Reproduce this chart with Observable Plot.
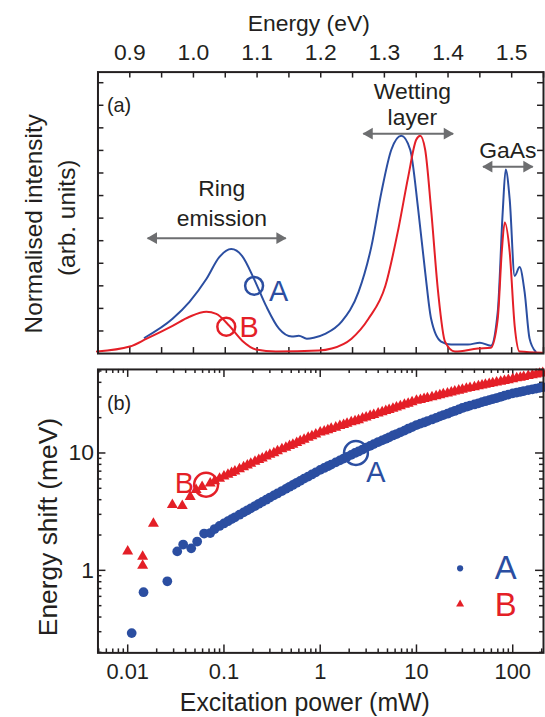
<!DOCTYPE html>
<html><head><meta charset="utf-8">
<script src="https://cdn.jsdelivr.net/npm/d3@7"></script>
<script src="https://cdn.jsdelivr.net/npm/@observablehq/plot@0.6"></script>
<style>
html,body{margin:0;padding:0;background:#fff;overflow:hidden;width:545px;height:717px;}
#wrap{position:relative;width:545px;height:717px;overflow:hidden;}
#pa{position:absolute;left:0;top:0;}
#pb{position:absolute;left:0;top:360px;}
</style></head><body>
<div id="wrap"><div id="pa"></div><div id="pb"></div></div>
<script>
// ---------- Panel (a): spectra ----------
const energyA = [0.9234,0.9672,0.9938,1.0203,1.0406,1.0594,1.0766,1.0953,1.1141,1.1344,1.1547,1.1656,1.1781,1.1891,1.2078,1.2328,1.2594,1.2797,1.2953,1.3109,1.3266,1.3406,1.3531,1.3641,1.3734,1.3891,1.4047,1.4313,1.45,1.4672,1.4781,1.4859,1.4906,1.4969,1.5047,1.5125,1.5203,1.5281,1.5375];
const intensityA = [0.070,0.154,0.229,0.330,0.427,0.463,0.432,0.330,0.211,0.110,0.075,0.079,0.066,0.070,0.088,0.141,0.273,0.476,0.714,0.903,0.965,0.903,0.639,0.361,0.154,0.053,0.040,0.040,0.048,0.035,0.185,0.626,0.815,0.683,0.344,0.383,0.273,0.066,0.009];
const energyB = [0.8484,0.9,0.9266,0.9672,0.9938,1.0203,1.0359,1.0563,1.0766,1.0984,1.1297,1.1969,1.2172,1.2484,1.275,1.3016,1.3219,1.3375,1.35,1.3563,1.3641,1.3734,1.3844,1.3953,1.4109,1.4469,1.4672,1.4781,1.4844,1.4891,1.4969,1.5047,1.5125,1.5484];
const intensityB = [0.009,0.031,0.066,0.123,0.163,0.185,0.176,0.123,0.057,0.018,0.009,0.013,0.022,0.066,0.154,0.300,0.551,0.784,0.947,0.965,0.903,0.639,0.273,0.053,0.009,0.022,0.026,0.154,0.449,0.581,0.449,0.123,0.009,0.004];

const energyTickLabels = [0.9,1.0,1.1,1.2,1.3,1.4,1.5];
const energyTicks = [0.85,0.9,0.95,1.0,1.05,1.1,1.15,1.2,1.25,1.3,1.35,1.4,1.45,1.5,1.55];
const intensityTicks = [0.1,0.2,0.3,0.4,0.5,0.6,0.7,0.8,0.9,1.0,1.1,1.2];

// annotations (a)
const arrowNames = ["ring","wetting","gaas"];
const arrowE1 = [0.928,1.267,1.455];
const arrowE2 = [1.145,1.408,1.533];
const arrowI = [0.511,0.974,0.828];
const annotText = ["Ring","emission","Wetting","layer","GaAs"];
const annotE = [1.0445,1.0445,1.344,1.344,1.494];
const annotI = [0.696,0.564,1.128,1.013,0.868];
const markerLetters = ["A","B"];
const markerE = [1.0953,1.0516];
const markerI = [0.300,0.119];
const letterE = [1.134,1.0875];
const letterI = [0.233,0.075];

// ---------- Panel (b): energy shift vs power ----------
const powerSparseA = [0.011,0.0146,0.0258,0.0327,0.0377,0.0457,0.0527,0.0622];
const shiftSparseA = [0.292,0.651,0.807,1.45,1.66,1.54,1.76,2.06];
const powerSparseB = [0.01,0.0143,0.0143,0.0185,0.0291,0.0369,0.0446,0.0514,0.0593];
const shiftSparseB = [1.45,1.31,1.10,2.50,3.62,3.55,4.24,4.86,5.15];
const powerDense = [0.072,0.08,0.09,0.1,0.11,0.12,0.13,0.145,0.16,0.175,0.19,0.21,0.23,0.25,0.275,0.3,0.33,0.36,0.4,0.44,0.48,0.52,0.57,0.62,0.68,0.75,0.82,0.9,1.0,1.1,1.2,1.3,1.45,1.6,1.75,1.9,2.1,2.3,2.5,2.75,3.0,3.3,3.6,4.0,4.4,4.8,5.2,5.7,6.2,6.8,7.5,8.2,9.0,10,11,12,13,14.5,16,17.5,19,21,23,25,27.5,30,33,36,40,44,48,52,57,62,68,75,82,90,100,110,120,130,145,160,175,190,205];
const shiftDenseA = [2.08,2.25,2.39,2.51,2.62,2.73,2.83,2.98,3.12,3.25,3.37,3.53,3.69,3.83,4.00,4.17,4.35,4.52,4.74,4.95,5.15,5.34,5.57,5.78,6.04,6.30,6.56,6.84,7.18,7.45,7.71,7.96,8.32,8.65,8.97,9.27,9.64,10.0,10.3,10.7,11.1,11.5,11.9,12.4,12.8,13.2,13.6,14.1,14.5,15.0,15.5,16.1,16.6,17.3,17.8,18.2,18.7,19.3,19.9,20.5,21.0,21.6,22.3,22.8,23.5,24.2,24.8,25.3,25.9,26.5,27.1,27.6,28.2,28.8,29.4,30.1,30.8,31.4,32.2,32.7,33.2,33.7,34.3,34.9,35.4,35.9,36.4];
const shiftDenseB = [5.52,5.77,6.04,6.31,6.55,6.78,6.98,7.29,7.59,7.85,8.11,8.43,8.73,9.02,9.35,9.68,10.0,10.4,10.8,11.1,11.5,11.8,12.2,12.6,13.0,13.5,13.9,14.4,15.0,15.3,15.7,16.1,16.5,17.0,17.4,17.8,18.3,18.7,19.1,19.7,20.1,20.7,21.1,21.8,22.3,22.9,23.3,23.9,24.5,25.1,25.8,26.4,27.1,27.9,28.4,28.9,29.4,30.0,30.6,31.2,31.7,32.3,32.9,33.5,34.1,34.7,35.3,35.9,36.5,37.1,37.7,38.2,38.8,39.4,40.0,40.6,41.2,41.9,42.7,43.4,44.0,44.6,45.4,46.1,46.8,47.5,48.1];

const powerTickLabels = [0.01,0.1,1,10,100];
const powerMinor = [0.005,0.006,0.007,0.008,0.009,0.02,0.03,0.04,0.05,0.06,0.07,0.08,0.09,0.2,0.3,0.4,0.5,0.6,0.7,0.8,0.9,2,3,4,5,6,7,8,9,20,30,40,50,60,70,80,90,200];
const shiftTickLabels = [1,10];
const shiftMinor = [0.2,0.3,0.4,0.5,0.6,0.7,0.8,0.9,2,3,4,5,6,7,8,9,20,30,40,50];

const circleP = [2.35,0.0652];
const circleE = [10,5.36];
const circleLetterP = [3.78,0.0387];
const circleLetterE = [5.68,4.58];
const legendP = [28.4];
const legendTextP = [84.7];
const legendMarkE = [1.04,0.515];
const legendTextE = [0.839,0.408];

// ---------- styling ----------
const BLUE = "#2b4ea1", RED = "#e41f27", GREY = "#6d6e70", INK = "#231f20";
const FONT = "'Liberation Sans', Arial, Helvetica, sans-serif";
const W = 548;
const style = {fontFamily: FONT, fontSize: "20px", color: INK, background: "transparent", overflow: "visible"};

const rowsA = energyA.map((e,i)=>({e, v: intensityA[i]}));
const rowsB = energyB.map((e,i)=>({e, v: intensityB[i]}));
const arrows = arrowNames.map((n,i)=>({n, x1: arrowE1[i], x2: arrowE2[i], y: arrowI[i]}));
const annots = annotText.map((t,i)=>({t, x: annotE[i], y: annotI[i]}));

const mA = {top:72, bottom:5, left:98, right:2, height:360};
const fwA = W - mA.left - mA.right, fhA = mA.height - mA.top - mA.bottom;
const TL = 6;

const plotA = Plot.plot({
  width: W, height: mA.height,
  marginTop: mA.top, marginBottom: mA.bottom, marginLeft: mA.left, marginRight: mA.right,
  style,
  x: {domain: [0.85, 1.55], axis: null},
  y: {domain: [0, 1.247], axis: null},
  marks: [
    Plot.tickX(energyTicks, {x: d=>d, insetTop: fhA - TL, stroke: INK, strokeWidth: 1.5}),
    Plot.tickX(energyTicks, {x: d=>d, insetBottom: fhA - TL, stroke: INK, strokeWidth: 1.5}),
    Plot.tickY(intensityTicks, {y: d=>d, insetRight: fwA - TL, stroke: INK, strokeWidth: 1.5}),
    Plot.tickY(intensityTicks, {y: d=>d, insetLeft: fwA - TL, stroke: INK, strokeWidth: 1.5}),
    Plot.axisX(energyTickLabels, {anchor: "top", tickSize: 0, tickPadding: 12, lineAnchor: "bottom", tickFormat: d=>d.toFixed(1), fontSize: 23, label: null, fill: INK}),
    Plot.text(["Energy (eV)"], {frameAnchor: "top", dx: -12, dy: -41, lineAnchor: "bottom", textAnchor: "middle", fontSize: 23, fill: INK}),
    Plot.text(["Normalised intensity"], {frameAnchor: "left", rotate: -90, dx: -64, dy: 11, lineAnchor: "middle", textAnchor: "middle", fontSize: 24.5, fill: INK}),
    Plot.text(["(arb. units)"], {frameAnchor: "left", rotate: -90, dx: -31, dy: 5, lineAnchor: "middle", textAnchor: "middle", fontSize: 24.5, fill: INK}),
    Plot.text(["(a)"], {frameAnchor: "top-left", dx: 9, dy: 40, lineAnchor: "bottom", textAnchor: "start", fontSize: 20, fill: INK}),
    Plot.line(rowsA, {x: "e", y: "v", stroke: BLUE, strokeWidth: 2, curve: "monotone-x"}),
    Plot.line(rowsB, {x: "e", y: "v", stroke: RED, strokeWidth: 2, curve: "monotone-x"}),
    Plot.link(arrows, {x1: "x1", x2: "x2", y1: "y", y2: "y", stroke: GREY, strokeWidth: 2}),
    Plot.dot(arrows, {x: "x1", y: "y", symbol: "triangle", rotate: -90, r: 4.4, fill: GREY, dx: 6}),
    Plot.dot(arrows, {x: "x2", y: "y", symbol: "triangle", rotate: 90, r: 4.4, fill: GREY, dx: -6}),
    Plot.text(annots, {x: "x", y: "y", text: "t", lineAnchor: "bottom", fontSize: 23, fill: INK}),
    Plot.dot(markerLetters, {x: (d,i)=>markerE[i], y: (d,i)=>markerI[i], r: 9, stroke: (d,i)=> i===0 ? BLUE : RED, strokeWidth: 2.5, fill: "none"}),
    Plot.text(markerLetters, {x: (d,i)=>letterE[i], y: (d,i)=>letterI[i], text: d=>d, lineAnchor: "bottom", fontSize: 29, fill: (d,i)=> i===0 ? BLUE : RED}),
    Plot.frame({stroke: INK, strokeWidth: 2})
  ]
});
document.getElementById("pa").appendChild(plotA);

const mB = {top:9, bottom:63, left:98, right:2, height:357};
const fwB = W - mB.left - mB.right, fhB = mB.height - mB.top - mB.bottom;
const TLM = 8, TLm = 4;
const dataA = [...powerSparseA, ...powerDense].map((p,i)=>({p, s: [...shiftSparseA, ...shiftDenseA][i]}));
const dataB = [...powerSparseB, ...powerDense].map((p,i)=>({p, s: [...shiftSparseB, ...shiftDenseB][i]}));

const plotB = Plot.plot({
  width: W, height: mB.height,
  marginTop: mB.top, marginBottom: mB.bottom, marginLeft: mB.left, marginRight: mB.right,
  style,
  x: {type: "log", domain: [0.00491, 208.8], axis: null},
  y: {type: "log", domain: [0.198, 51.5], axis: null},
  marks: [
    Plot.tickX(powerTickLabels, {x: d=>d, insetTop: fhB - TLM, stroke: INK, strokeWidth: 1.5}),
    Plot.tickX(powerTickLabels, {x: d=>d, insetBottom: fhB - TLM, stroke: INK, strokeWidth: 1.5}),
    Plot.tickX(powerMinor, {x: d=>d, insetTop: fhB - TLm, stroke: INK, strokeWidth: 1.5}),
    Plot.tickX(powerMinor, {x: d=>d, insetBottom: fhB - TLm, stroke: INK, strokeWidth: 1.5}),
    Plot.tickY(shiftTickLabels, {y: d=>d, insetRight: fwB - TLM, stroke: INK, strokeWidth: 1.5}),
    Plot.tickY(shiftTickLabels, {y: d=>d, insetLeft: fwB - TLM, stroke: INK, strokeWidth: 1.5}),
    Plot.tickY(shiftMinor, {y: d=>d, insetRight: fwB - TLm, stroke: INK, strokeWidth: 1.5}),
    Plot.tickY(shiftMinor, {y: d=>d, insetLeft: fwB - TLm, stroke: INK, strokeWidth: 1.5}),
    Plot.axisX(powerTickLabels, {anchor: "bottom", tickSize: 0, tickPadding: 26, lineAnchor: "bottom", tickFormat: d=>String(d), fontSize: 22, label: null, fill: INK}),
    Plot.axisY(shiftTickLabels, {anchor: "left", tickSize: 0, tickPadding: 4, tickFormat: d=>String(d), fontSize: 23, label: null, fill: INK}),
    Plot.text(["Excitation power (mW)"], {frameAnchor: "bottom", dx: -16, dy: 58, lineAnchor: "bottom", textAnchor: "middle", fontSize: 25, fill: INK}),
    Plot.text(["Energy shift (meV)"], {frameAnchor: "left", rotate: -90, dx: -50, dy: 16, lineAnchor: "middle", textAnchor: "middle", fontSize: 26.5, fill: INK}),
    Plot.text(["(b)"], {frameAnchor: "top-left", dx: 9, dy: 41, lineAnchor: "bottom", textAnchor: "start", fontSize: 20, fill: INK}),
    Plot.dot(dataA, {x: "p", y: "s", r: 4.9, fill: BLUE}),
    Plot.dot(dataB, {x: "p", y: "s", symbol: "triangle", r: 4.1, fill: RED}),
    Plot.dot(markerLetters, {x: (d,i)=>circleP[i], y: (d,i)=>circleE[i], r: 12, stroke: (d,i)=> i===0 ? BLUE : RED, strokeWidth: 2.5, fill: "none"}),
    Plot.text(markerLetters, {x: (d,i)=>circleLetterP[i], y: (d,i)=>circleLetterE[i], text: d=>d, lineAnchor: "bottom", fontSize: 29, fill: (d,i)=> i===0 ? BLUE : RED}),
    Plot.dot(markerLetters, {x: legendP[0], y: (d,i)=>legendMarkE[i], symbol: (d,i)=> i===0 ? "circle" : "triangle", r: (d,i)=> i===0 ? 5 : 4.6, fill: (d,i)=> i===0 ? BLUE : RED}),
    Plot.text(markerLetters, {x: legendTextP[0], y: (d,i)=>legendTextE[i], text: d=>d, lineAnchor: "bottom", fontSize: 33, fill: (d,i)=> i===0 ? BLUE : RED}),
    Plot.frame({stroke: INK, strokeWidth: 2})
  ]
});
document.getElementById("pb").appendChild(plotB);
</script></body></html>
